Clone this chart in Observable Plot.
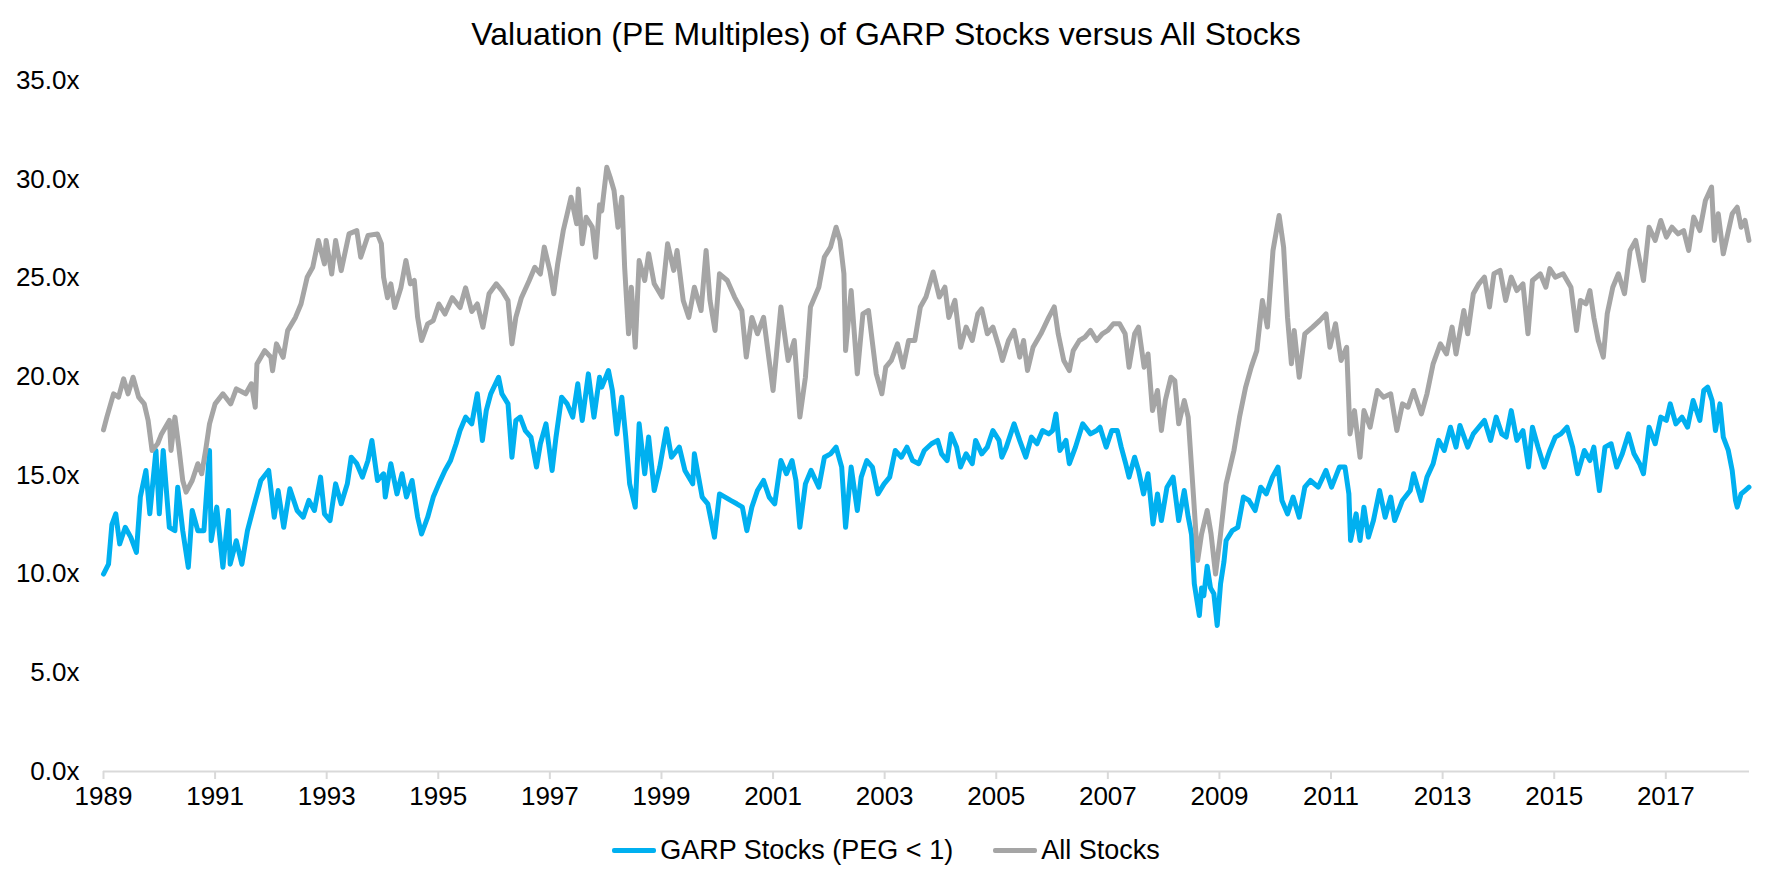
<!DOCTYPE html>
<html>
<head>
<meta charset="utf-8">
<script src="https://cdn.jsdelivr.net/npm/d3@7"></script>
<script src="https://cdn.jsdelivr.net/npm/@observablehq/plot@0.6"></script>
<style>
  html, body { margin: 0; padding: 0; background: #fff; }
  body { width: 1772px; font-family: "Liberation Sans", Arial, sans-serif; color: #000; }
  #title { height: 60px; line-height: 68px; text-align: center; font-size: 32px; }
  #chart { height: 770px; }
  #legend { height: 40px; display: flex; justify-content: center; align-items: center; font-size: 27px; }
  .item { display: flex; align-items: center; margin: 0 20px; }
  .sw { display: inline-block; width: 44px; height: 5px; border-radius: 2px; margin-right: 4px; }
</style>
</head>
<body>
<div id="title">Valuation (PE Multiples) of GARP Stocks versus All Stocks</div>
<div id="chart"></div>
<div id="legend"></div>
<script>
// ---- Data ----
const seriesNames = ["GARP Stocks (PEG < 1)", "All Stocks"];
const seriesColors = ["#00b0f0", "#a5a5a5"];
const yearTicks = [1989, 1991, 1993, 1995, 1997, 1999, 2001, 2003, 2005, 2007, 2009, 2011, 2013, 2015, 2017];
const peTicks = [0, 5, 10, 15, 20, 25, 30, 35];

// All Stocks: decimal year / PE multiple
const allYears = [
1989.00,1989.06,1989.18,1989.27,1989.36,1989.44,1989.53,1989.63,1989.73,1989.80,1989.87,1989.97,
1990.04,1990.18,1990.21,1990.28,1990.35,1990.42,1990.48,1990.59,1990.69,1990.76,1990.83,1990.90,
1991.00,1991.14,1991.28,1991.38,1991.55,1991.65,1991.72,1991.75,1991.89,
1992.00,1992.03,1992.10,1992.22,1992.30,1992.44,1992.54,1992.65,1992.75,1992.85,1992.96,1992.99,
1993.09,1993.16,1993.26,1993.40,1993.54,1993.61,1993.74,1993.91,1993.98,
1994.02,1994.09,1994.15,1994.22,1994.33,1994.42,1994.50,1994.57,1994.63,1994.70,1994.81,1994.91,
1995.01,1995.12,1995.25,1995.39,1995.49,1995.60,1995.70,1995.80,1995.91,
1996.04,1996.14,1996.25,1996.32,1996.39,1996.49,1996.63,1996.73,1996.83,1996.90,
1997.00,1997.07,1997.14,1997.24,1997.31,1997.38,1997.48,1997.51,1997.58,1997.65,1997.76,1997.82,1997.89,1997.93,
1998.02,1998.08,1998.15,1998.22,1998.29,1998.34,1998.41,1998.46,1998.53,1998.60,1998.70,1998.77,1998.87,
1999.01,1999.11,1999.22,1999.28,1999.39,1999.49,1999.59,1999.71,1999.80,1999.87,1999.96,
2000.04,2000.18,2000.31,2000.44,2000.52,2000.62,2000.72,2000.83,2000.93,
2001.00,2001.14,2001.27,2001.38,2001.48,2001.58,2001.67,2001.82,2001.92,
2002.03,2002.13,2002.20,2002.27,2002.30,2002.40,2002.51,2002.61,2002.71,2002.85,2002.95,
2003.02,2003.12,2003.23,2003.33,2003.43,2003.54,2003.64,2003.74,2003.87,2003.98,
2004.08,2004.15,2004.26,2004.36,2004.46,2004.57,2004.67,2004.74,2004.84,2004.94,
2005.05,2005.11,2005.22,2005.32,2005.42,2005.49,2005.56,2005.66,2005.80,2005.94,
2006.04,2006.11,2006.21,2006.31,2006.38,2006.49,2006.59,2006.69,2006.80,2006.90,
2007.00,2007.10,2007.21,2007.31,2007.38,2007.48,2007.55,2007.65,2007.72,2007.80,2007.89,2007.96,
2008.03,2008.13,2008.20,2008.27,2008.37,2008.44,2008.54,2008.61,2008.68,2008.78,2008.85,2008.93,
2009.02,2009.12,2009.26,2009.36,2009.47,2009.57,2009.67,2009.77,2009.86,2009.96,
2010.07,2010.15,2010.22,2010.29,2010.34,2010.43,2010.53,2010.67,2010.80,2010.91,2010.98,
2011.08,2011.18,2011.28,2011.34,2011.42,2011.52,2011.59,2011.70,2011.83,2011.94,
2012.07,2012.18,2012.28,2012.38,2012.48,2012.62,2012.72,2012.83,2012.96,
2013.07,2013.17,2013.24,2013.38,2013.45,2013.55,2013.65,2013.75,2013.84,2013.92,
2014.03,2014.13,2014.23,2014.33,2014.44,2014.53,2014.61,2014.75,2014.85,2014.92,
2015.02,2015.16,2015.30,2015.40,2015.47,2015.57,2015.64,2015.71,2015.79,2015.88,2015.95,
2016.05,2016.15,2016.26,2016.36,2016.46,2016.53,2016.60,2016.70,2016.81,2016.91,
2017.01,2017.11,2017.22,2017.32,2017.41,2017.50,2017.61,2017.71,2017.82,2017.87,2017.94,
2018.03,2018.11,2018.19,2018.28,2018.35,2018.42,2018.49
];
const allPE = [
17.3,17.95,19.13,18.96,19.89,19.13,19.97,18.96,18.62,17.78,16.26,16.6,
17.1,17.78,16.26,17.95,16.43,14.74,14.15,14.74,15.59,15.08,16.26,17.61,
18.62,19.13,18.62,19.38,19.13,19.64,18.45,20.64,21.32,
20.98,20.3,21.66,20.98,22.33,23.0,23.68,25.03,25.54,26.9,25.71,26.9,
25.2,26.9,25.37,27.23,27.4,26.05,27.15,27.23,26.73,
25.03,24.0,24.7,23.5,24.5,25.88,24.7,24.87,23.0,21.83,22.67,22.84,
23.68,23.17,24.0,23.5,24.5,23.3,23.68,22.5,24.2,
24.7,24.36,23.85,21.66,23.0,24.0,24.87,25.54,25.2,26.56,
25.37,24.2,25.71,27.4,28.24,29.09,27.74,29.51,26.73,28.07,27.57,26.05,28.7,28.4,
30.61,30.1,29.43,27.57,29.09,25.54,22.17,24.53,21.49,25.88,24.87,26.23,24.7,
24.03,26.73,25.38,26.39,23.86,23.0,24.53,23.35,26.39,23.86,22.34,
25.21,24.87,24.03,23.35,20.99,23.0,22.17,23.0,20.82,
19.3,23.53,20.82,21.83,17.95,19.97,23.53,24.53,26.06,
26.56,27.57,26.9,25.21,21.32,24.36,20.14,23.18,23.35,20.14,19.13,
20.48,20.82,21.66,20.48,21.83,21.83,23.53,24.03,25.3,24.03,
24.53,23.0,23.86,21.49,22.51,21.83,23.18,23.43,22.17,22.51,
21.49,20.82,21.83,22.34,20.99,21.83,20.31,21.49,22.17,23.0,
23.53,22.17,20.82,20.31,21.32,21.83,22.0,22.34,21.83,22.17,
22.34,22.68,22.68,22.17,20.48,22.17,22.51,20.48,21.15,18.28,19.3,17.27,
18.79,19.97,19.8,17.61,18.79,17.95,13.73,10.69,12.03,13.22,12.03,10.0,
12.03,14.57,16.26,17.95,19.47,20.48,21.32,23.86,22.51,26.39,
28.16,26.56,23.0,20.65,22.34,19.97,22.17,22.51,22.85,23.18,21.49,
22.68,20.82,21.49,17.1,18.28,15.92,18.28,17.44,19.3,18.96,
19.13,17.27,18.62,18.45,19.3,18.11,19.13,20.65,21.66,
21.15,22.51,21.15,23.35,22.17,24.2,24.7,25.04,23.53,25.21,
25.38,23.86,25.04,24.36,24.7,22.17,24.87,25.21,24.53,25.47,
25.04,25.21,24.53,22.34,23.86,23.69,24.36,23.0,21.83,20.99,23.18,
24.53,25.21,24.2,26.39,26.9,25.88,24.87,27.57,26.9,27.91,
27.07,27.57,27.23,27.4,26.39,28.08,27.4,28.92,29.6,26.9,28.25,
26.22,27.23,28.25,28.58,27.57,27.91,26.9
];

// GARP Stocks (PEG < 1): decimal year / PE multiple
const garpYears = [
1989.00,1989.09,1989.15,1989.22,1989.29,1989.39,1989.49,1989.59,1989.66,1989.76,1989.83,1989.94,
1990.00,1990.07,1990.18,1990.28,1990.33,1990.42,1990.52,1990.59,1990.69,1990.80,1990.90,1990.93,
1991.03,1991.14,1991.24,1991.27,1991.38,1991.48,1991.58,1991.69,1991.82,1991.96,
1992.06,1992.13,1992.23,1992.34,1992.47,1992.58,1992.68,1992.78,1992.89,1992.96,
1993.06,1993.16,1993.26,1993.37,1993.44,1993.54,1993.64,1993.74,1993.81,1993.91,
1994.02,1994.05,1994.15,1994.26,1994.35,1994.43,1994.53,1994.63,1994.70,1994.81,1994.91,
1995.01,1995.12,1995.22,1995.32,1995.39,1995.49,1995.60,1995.70,1995.79,1995.86,1995.94,
1996.08,1996.14,1996.25,1996.32,1996.39,1996.47,1996.56,1996.66,1996.76,1996.83,1996.93,
1997.04,1997.11,1997.21,1997.31,1997.41,1997.50,1997.58,1997.69,1997.79,1997.89,1997.93,
1998.05,1998.12,1998.20,1998.29,1998.36,1998.43,1998.53,1998.60,1998.70,1998.77,1998.87,1998.97,
1999.09,1999.18,1999.32,1999.42,1999.56,1999.59,1999.73,1999.83,1999.95,
2000.04,2000.14,2000.24,2000.35,2000.45,2000.53,2000.62,2000.72,2000.83,2000.93,
2001.03,2001.14,2001.24,2001.34,2001.41,2001.48,2001.58,2001.68,2001.82,2001.92,
2002.03,2002.13,2002.23,2002.30,2002.40,2002.51,2002.58,2002.68,2002.78,2002.88,2002.99,
2003.09,2003.19,2003.30,2003.40,2003.50,2003.61,2003.71,2003.84,2003.95,
2004.02,2004.12,2004.19,2004.29,2004.36,2004.46,2004.57,2004.63,2004.74,2004.84,2004.94,
2005.05,2005.10,2005.18,2005.32,2005.42,2005.53,2005.63,2005.73,2005.83,2005.94,
2006.01,2006.07,2006.14,2006.25,2006.31,2006.42,2006.55,2006.69,2006.80,2006.86,2006.97,
2007.07,2007.17,2007.24,2007.32,2007.38,2007.48,2007.55,2007.64,2007.72,2007.81,2007.89,2007.96,
2008.06,2008.17,2008.27,2008.37,2008.44,2008.50,2008.55,2008.60,2008.64,2008.68,2008.72,2008.78,2008.84,2008.90,2008.96,
2009.02,2009.08,2009.12,2009.23,2009.33,2009.43,2009.53,2009.64,2009.74,2009.84,2009.95,
2010.05,2010.12,2010.22,2010.32,2010.43,2010.53,2010.63,2010.77,2010.91,
2011.01,2011.15,2011.25,2011.32,2011.35,2011.45,2011.52,2011.59,2011.67,2011.76,2011.87,2011.97,
2012.07,2012.14,2012.28,2012.42,2012.48,2012.62,2012.72,2012.83,2012.93,
2013.03,2013.14,2013.24,2013.31,2013.45,2013.55,2013.65,2013.75,2013.86,2013.96,
2014.06,2014.14,2014.23,2014.33,2014.44,2014.54,2014.61,2014.71,2014.82,2014.92,
2015.02,2015.12,2015.23,2015.33,2015.42,2015.54,2015.64,2015.71,2015.81,2015.91,
2016.02,2016.12,2016.22,2016.33,2016.43,2016.53,2016.60,2016.70,2016.81,2016.91,
2017.01,2017.08,2017.18,2017.29,2017.39,2017.49,2017.61,2017.68,2017.75,2017.83,2017.89,2017.97,
2018.03,2018.12,2018.19,2018.25,2018.28,2018.35,2018.42,2018.49
];
const garpPE = [
10.0,10.5,12.5,13.05,11.53,12.37,11.86,11.1,13.9,15.25,13.05,16.26,
13.05,16.26,12.37,12.2,14.4,12.2,10.34,13.22,12.2,12.2,16.26,11.69,
13.39,10.34,13.22,10.5,11.69,10.5,12.2,13.39,14.74,15.25,
12.88,14.23,12.37,14.32,13.22,12.88,13.73,13.22,14.91,13.05,
12.71,14.57,13.56,14.57,15.92,15.59,14.91,15.75,16.77,14.74,
15.08,13.9,15.59,14.06,15.08,13.9,14.74,12.88,12.03,12.88,13.9,
14.57,15.25,15.75,16.6,17.27,17.95,17.61,19.13,16.77,18.28,19.13,
19.97,19.13,18.62,15.92,17.78,17.95,17.27,16.94,15.42,16.6,17.61,
15.25,16.94,18.96,18.62,17.95,19.64,17.78,20.14,17.95,19.97,19.47,
20.31,19.3,17.1,18.96,16.94,14.57,13.39,17.61,15.08,16.94,14.23,15.42,
17.36,15.92,16.43,15.25,14.57,16.09,13.9,13.56,11.87,
14.06,13.9,13.73,13.56,13.39,12.2,13.39,14.23,14.74,13.9,
13.56,15.75,15.08,15.75,14.74,12.37,14.57,15.25,14.4,15.92,
16.09,16.43,15.42,12.37,15.42,13.22,14.91,15.75,15.42,14.06,14.57,
14.91,16.26,15.92,16.43,15.75,15.59,16.26,16.6,16.77,
16.09,15.75,17.1,16.43,15.42,16.09,15.59,16.77,16.09,16.43,17.27,
16.77,15.92,16.43,17.61,16.77,15.92,16.94,16.6,17.27,17.1,
17.27,18.11,16.26,16.77,15.59,16.43,17.61,17.1,17.27,17.44,16.43,
17.27,17.27,16.43,15.59,14.91,15.92,15.25,14.06,15.08,12.54,14.06,12.71,
14.4,14.91,12.71,14.23,12.9,12.0,9.5,8.6,7.9,9.3,8.9,10.4,9.3,9.0,7.4,
9.5,10.6,11.7,12.2,12.37,13.9,13.73,13.22,14.4,14.06,14.91,
15.42,13.73,13.05,13.9,12.88,14.4,14.74,14.4,15.25,
14.4,15.42,15.42,14.06,11.7,13.05,11.7,13.39,11.87,12.71,14.23,12.88,
13.9,12.71,13.73,14.23,15.08,13.73,14.91,15.59,16.77,
16.26,17.44,16.43,17.53,16.43,17.1,17.44,17.78,16.77,17.95,
17.1,16.94,18.28,16.77,17.27,15.42,17.44,16.43,15.42,16.26,
16.94,17.1,17.44,16.43,15.08,16.26,15.75,16.43,14.23,16.43,
16.6,15.42,16.09,17.1,16.09,15.59,15.08,17.44,16.6,17.95,
17.78,18.62,17.61,17.95,17.44,18.79,17.78,19.3,19.47,18.79,17.27,18.62,
16.94,16.26,15.25,13.73,13.39,14.06,14.23,14.4
];

// ---- Build tables ----
const garp = garpYears.map((t, i) => ({ t, v: garpPE[i] }));
const all = allYears.map((t, i) => ({ t, v: allPE[i] }));

const chart = Plot.plot({
  width: 1772,
  height: 770,
  marginLeft: 103,
  marginRight: 23,
  marginTop: 20,
  marginBottom: 59,
  style: { fontFamily: "Liberation Sans, Arial, sans-serif", fontSize: "26px", color: "#000", background: "#fff", overflow: "visible" },
  x: { type: "linear", domain: [1989, 2018.5] },
  y: { domain: [0, 35] },
  marks: [
    Plot.axisY({ ticks: peTicks, tickFormat: d => d.toFixed(1) + "x", tickSize: 0, tickPadding: 24, label: null, fill: "#000" }),
    Plot.axisX({ ticks: yearTicks, tickFormat: d => String(d), tickSize: 8, tickPadding: 7, label: null, stroke: "#d9d9d9", strokeWidth: 2, fill: "#000" }),
    Plot.ruleY([0], { stroke: "#d9d9d9", strokeWidth: 2 }),
    Plot.line(garp, { x: "t", y: "v", stroke: seriesColors[0], strokeWidth: 5, strokeLinejoin: "round", strokeLinecap: "round" }),
    Plot.line(all, { x: "t", y: "v", stroke: seriesColors[1], strokeWidth: 5, strokeLinejoin: "round", strokeLinecap: "round" })
  ]
});
document.getElementById("chart").appendChild(chart);

// ---- Legend ----
const legend = document.getElementById("legend");
seriesNames.forEach((name, i) => {
  const item = document.createElement("div");
  item.className = "item";
  const sw = document.createElement("span");
  sw.className = "sw";
  sw.style.background = seriesColors[i];
  const label = document.createElement("span");
  label.textContent = name;
  item.appendChild(sw);
  item.appendChild(label);
  legend.appendChild(item);
});
</script>
</body>
</html>
